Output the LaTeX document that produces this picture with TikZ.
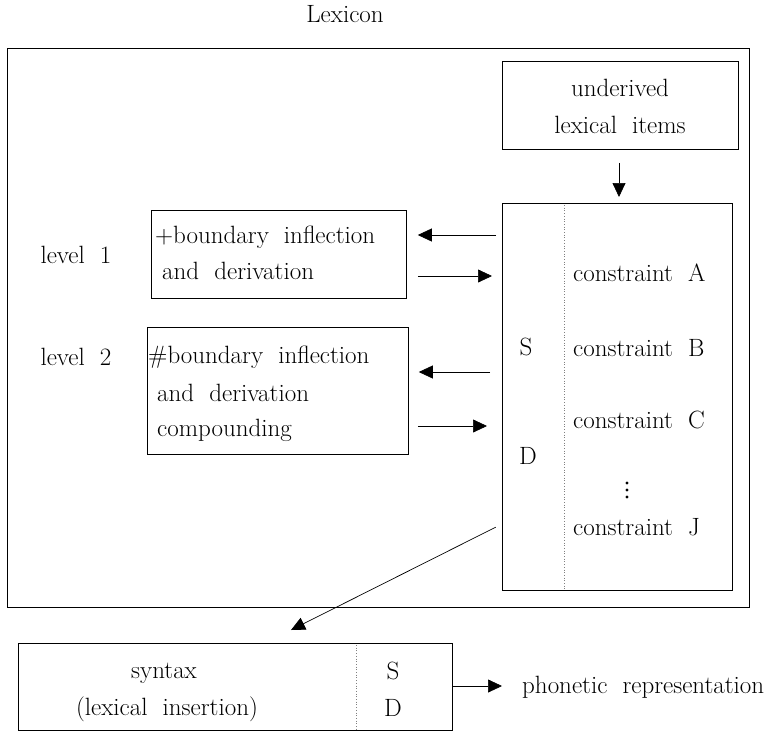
\documentclass[tikz,border=0pt]{standalone}
\usetikzlibrary{arrows.meta,calc}
\begin{document}
\begin{tikzpicture}[x=1pt,y=-1pt,
  every node/.style={font=\fontsize{25}{36}\selectfont, inner sep=0pt},
  box/.style={draw, line width=0.8pt, anchor=north west},
  arr/.style={line width=0.7pt, -{Triangle[length=14pt,width=13pt]}},
  divider/.style={gray, dotted, line width=0.7pt},
  dotmark/.style={fill=black, circle, minimum size=3.2pt}]
\useasboundingbox (0,0) rectangle (767,731);
% title
\node (lexicon) at (345,14) {Lexicon};
% boxes
\node[box, minimum width=742pt, minimum height=559pt] (outer) at (7,48) {};
\node[box, minimum width=236pt, minimum height=88pt] (und) at (502,61) {};
\node (und1) at (620,88) {underived};
\node (und2) at (620,125) {lexical\ \ items};
\node[box, minimum width=230pt, minimum height=387pt] (big) at (502,203) {};
\draw[divider] (564,205) -- (564,589);
\node[box, minimum width=255pt, minimum height=88pt] (lvl1) at (151,210) {};
\node[anchor=west] (t11) at (155,237) {+boundary\ \ inflection};
\node[anchor=west] (t12) at (162,271) {and\ \ derivation};
\node[box, minimum width=261pt, minimum height=127pt] (lvl2) at (147,327) {};
\node[anchor=west] (t21) at (148,357) {\#boundary\ \ inflection};
\node[anchor=west] (t22) at (157,393) {and\ \ derivation};
\node[anchor=west] (t23) at (157,430) {compounding};
\node (l1) at (76,255) {level\ \ 1};
\node (l2) at (76,357) {level\ \ 2};
% contents of big box
\node[anchor=west] (cA) at (573,273) {constraint\ \ A};
\node[anchor=west] (cB) at (573,348) {constraint\ \ B};
\node[anchor=west] (cC) at (573,420) {constraint\ \ C};
\node[dotmark, inner sep=0pt] (d1) at (627,483) {};
\node[dotmark, inner sep=0pt] (d2) at (627,490) {};
\node[dotmark, inner sep=0pt] (d3) at (627,497) {};
\node[anchor=west] (cJ) at (573,527) {constraint\ \ J};
\node (S1) at (526,347) {S};
\node (D1) at (528,456) {D};
% bottom box
\node[box, minimum width=434pt, minimum height=87pt] (syn) at (18,643) {};
\draw[divider] (356,645) -- (356,729);
\node (syn1) at (164,673) {syntax};
\node (syn2) at (167,709) {(lexical\ \ insertion)};
\node (S2) at (393,671) {S};
\node (D2) at (393,708) {D};
\node[anchor=west] (phon) at (522,687) {phonetic\ \ representation};
% coordinates for arrows
\coordinate (y1a) at (0,235);
\coordinate (y1b) at (0,276);
\coordinate (y2a) at (0,372);
\coordinate (y2b) at (0,426);
\coordinate (ydg) at (0,524);
\coordinate (ysy) at (0,686);
\coordinate (tip) at (291,630);
% arrows
\draw[arr, shorten <=13pt, shorten >=6pt] (und.south -| 619,0) -- (big.north -| 619,0);
\draw[arr, shorten <=6pt, shorten >=11pt] (big.west |- y1a) -- (lvl1.east |- y1a);
\draw[arr, shorten <=11pt, shorten >=10pt] (lvl1.east |- y1b) -- (big.west |- y1b);
\draw[arr, shorten <=12pt, shorten >=10pt] (big.west |- y2a) -- (lvl2.east |- y2a);
\draw[arr, shorten <=9pt, shorten >=15pt] (lvl2.east |- y2b) -- (big.west |- y2b);
\draw[arr, shorten <=7pt] (big.west |- ydg) -- (tip);
\draw[arr, shorten >=20pt] (syn.east |- ysy) -- (phon.west |- ysy);
\end{tikzpicture}
\end{document}
